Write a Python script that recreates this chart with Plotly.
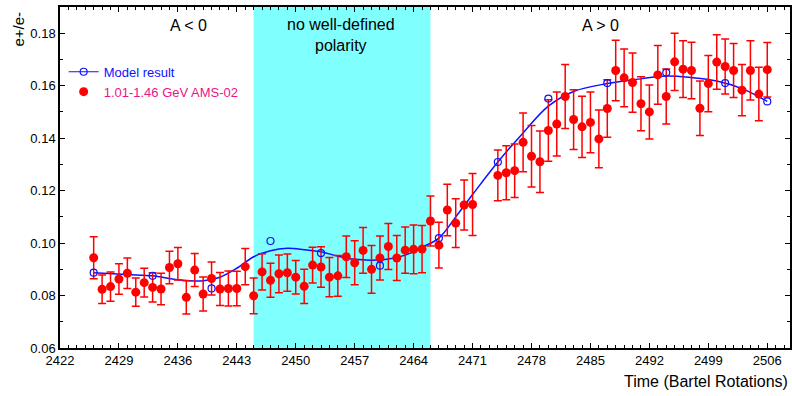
import plotly.graph_objects as go

# AMS-02 data (Bartel rotation, e+/e- ratio, error)
ams_x = list(range(2426, 2472)) + list(range(2474, 2507))
ams_y = [0.0944, 0.0824, 0.0834, 0.0863, 0.0885, 0.0813, 0.0849, 0.0831, 0.0825, 0.0907,
         0.0921, 0.0793, 0.0897, 0.0806, 0.0865, 0.0825, 0.0827, 0.0827, 0.0910, 0.0799,
         0.0890, 0.0858, 0.0883, 0.0887, 0.0870, 0.0835, 0.0916, 0.0909, 0.0870, 0.0875,
         0.0948, 0.0925, 0.0972, 0.0900, 0.0943, 0.0987, 0.0943, 0.0973, 0.0976, 0.0977,
         0.1084, 0.0992, 0.1126, 0.1076, 0.1145, 0.1147,
         0.1258, 0.1268, 0.1276, 0.1384, 0.1331, 0.1310, 0.1429, 0.1454, 0.1559, 0.1471,
         0.1443, 0.1460, 0.1397, 0.1513, 0.1658, 0.1630, 0.1612, 0.1531, 0.1500, 0.1641,
         0.1559, 0.1691, 0.1663, 0.1658, 0.1514, 0.1608, 0.1690, 0.1673, 0.1658, 0.1583,
         0.1658, 0.1568, 0.1661]
ams_err = [0.0080, 0.0054, 0.0056, 0.0058, 0.0058, 0.0054, 0.0055, 0.0056, 0.0060, 0.0062,
           0.0062, 0.0063, 0.0063, 0.0065, 0.0063, 0.0063, 0.0067, 0.0066, 0.0069, 0.0068,
           0.0069, 0.0065, 0.0072, 0.0071, 0.0064, 0.0065, 0.0068, 0.0077, 0.0075, 0.0078,
           0.0079, 0.0084, 0.0087, 0.0091, 0.0084, 0.0088, 0.0086, 0.0088, 0.0093, 0.0090,
           0.0095, 0.0087, 0.0098, 0.0093, 0.0095, 0.0118,
           0.0097, 0.0103, 0.0102, 0.0112, 0.0117, 0.0117, 0.0117, 0.0122, 0.0122, 0.0114,
           0.0117, 0.0116, 0.0110, 0.0110, 0.0115, 0.0110, 0.0113, 0.0103, 0.0103, 0.0112,
           0.0105, 0.0109, 0.0108, 0.0108, 0.0104, 0.0107, 0.0104, 0.0105, 0.0103, 0.0098,
           0.0113, 0.0102, 0.0104]

# Model result points (open circles)
model_x = [2426, 2433, 2440, 2447, 2453, 2460, 2467, 2474, 2480, 2487, 2494, 2501, 2506]
model_y = [0.0887, 0.0875, 0.0827, 0.1008, 0.0962, 0.0914, 0.1019, 0.1309, 0.1551, 0.1610,
           0.1650, 0.1610, 0.1540]

# Smoothed model curve
curve_x = [2426, 2430, 2433, 2436, 2439, 2441, 2443, 2445, 2447, 2449, 2451, 2453, 2455, 2457,
           2459, 2461, 2463, 2465, 2467, 2469, 2471, 2474, 2477, 2480, 2483, 2487, 2491, 2494,
           2497, 2500, 2503, 2506]
curve_y = [0.0887, 0.0880, 0.0875, 0.0860, 0.0856, 0.0870, 0.0904, 0.0948, 0.0971, 0.0980,
           0.0975, 0.0967, 0.0950, 0.0938, 0.0935, 0.0939, 0.0954, 0.0984, 0.1019, 0.1100,
           0.1185, 0.1309, 0.1420, 0.1522, 0.1578, 0.1608, 0.1626, 0.1637, 0.1631, 0.1618,
           0.1589, 0.1540]

x_ticks = list(range(2422, 2507, 7))
y_ticks = [0.06, 0.08, 0.10, 0.12, 0.14, 0.16, 0.18]

FONT = "Liberation Sans, Arial, sans-serif"
BLUE = "#1010FF"
RED = "#FF0000"
PINK = "#EC1487"

fig = go.Figure()

fig.add_shape(type="rect", xref="x", yref="paper", x0=2445, x1=2466, y0=0, y1=1,
              fillcolor="#80FFFF", line=dict(width=0), layer="below")

# legend-only entry for model
fig.add_trace(go.Scatter(x=[None], y=[None], mode="lines+markers",
                         name=f"<span style='color:{BLUE}'>Model result</span>",
                         line=dict(color=BLUE, width=1.2),
                         marker=dict(symbol="circle-open", size=7, color=BLUE, line=dict(width=1.2))))

fig.add_trace(go.Scatter(x=curve_x, y=curve_y, mode="lines", line=dict(color=BLUE, width=1.5, shape="spline", smoothing=1.0),
                         showlegend=False, hoverinfo="skip"))

fig.add_trace(go.Scatter(x=ams_x, y=ams_y, mode="markers",
                         name=f"<span style='color:{PINK}'>1.01-1.46 GeV AMS-02</span>",
                         marker=dict(symbol="circle", size=9, color=RED),
                         error_y=dict(type="data", array=ams_err, visible=True, color=RED,
                                      thickness=1.5, width=4)))

fig.add_trace(go.Scatter(x=model_x, y=model_y, mode="markers", showlegend=False,
                         marker=dict(symbol="circle-open", size=7, color=BLUE, line=dict(width=1.2))))

axis_common = dict(showgrid=False, zeroline=False, showline=True, linecolor="black", linewidth=1.5,
                   ticks="inside", ticklen=5, tickwidth=1, tickcolor="black", mirror="allticks",
                   tickfont=dict(family=FONT, size=13, color="black"))

fig.update_xaxes(range=[2422, 2508.7], tickvals=x_ticks, ticktext=[str(v) for v in x_ticks],
                 minor=dict(dtick=1, tick0=2422, ticks="inside", ticklen=3, tickcolor="black", tickwidth=1),
                 **axis_common)
fig.update_yaxes(range=[0.06, 0.19], tickvals=y_ticks, ticktext=[f"{v:.2f}" for v in y_ticks],
                 minor=dict(dtick=0.01, tick0=0.06, ticks="inside", ticklen=3, tickcolor="black", tickwidth=1),
                 **axis_common)

annos = [
    dict(x=2437.3, y=0.183, xref="x", yref="y", text="A < 0", showarrow=False,
         font=dict(family=FONT, size=16, color="black")),
    dict(x=2455.4, y=0.1792, xref="x", yref="y", text="no well-defined<br>polarity", showarrow=False,
         font=dict(family=FONT, size=16, color="black")),
    dict(x=2486.2, y=0.183, xref="x", yref="y", text="A > 0", showarrow=False,
         font=dict(family=FONT, size=16, color="black")),
    dict(x=1.0, y=-0.0997, xref="paper", yref="paper", text="Time (Bartel Rotations)", showarrow=False,
         xanchor="right", yanchor="middle", font=dict(family=FONT, size=16, color="black")),
    dict(x=-0.0567, y=0.9355, xref="paper", yref="paper", text="e+/e-", showarrow=False,
         textangle=-90, xanchor="center", yanchor="middle", font=dict(family=FONT, size=15, color="black")),
]
fig.update_layout(
    width=792, height=396,
    margin=dict(l=60, r=0, t=7, b=48, pad=0),
    paper_bgcolor="white", plot_bgcolor="white",
    annotations=annos,
    legend=dict(x=0.005, y=0.854, xanchor="left", yanchor="top", bgcolor="rgba(0,0,0,0)",
                font=dict(family=FONT, size=13), tracegroupgap=0),
    font=dict(family=FONT),
)

fig.write_html("out.html")
